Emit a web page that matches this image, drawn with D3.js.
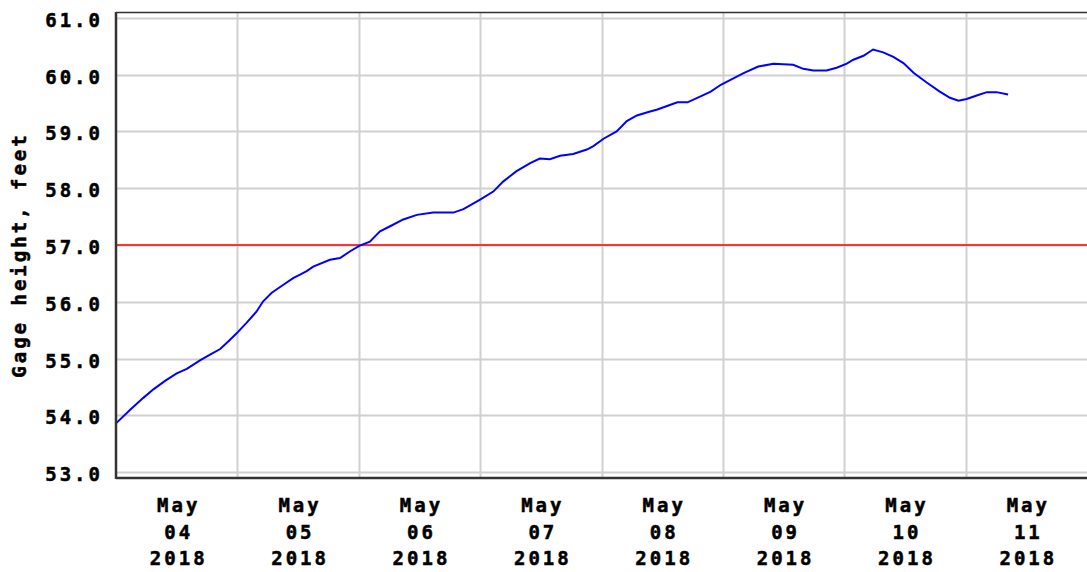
<!DOCTYPE html>
<html>
<head>
<meta charset="utf-8">
<script src="https://cdn.jsdelivr.net/npm/d3@7"></script>
<style>
  html, body { margin: 0; padding: 0; background: #fff; }
  svg { display: block; }
  text { font-family: "DejaVu Sans Mono", "Liberation Mono", monospace; font-weight: bold; font-size: 19px; fill: #000; stroke: #000; stroke-width: 0.5px; }
</style>
</head>
<body>
<svg id="chart" width="1087" height="572"></svg>
<script>
// ---- data (hours after 2018-05-04 00:00, gage height in feet) ----
const startTime = "2018-05-04T00:00:00";
const hours = [0.1, 2.8, 5.4, 7.4, 9.7, 12.0, 14.0, 16.6, 18.6, 20.6, 22.5, 23.9, 25.8, 27.8, 29.1, 30.8, 33.1, 35.1, 36.4, 37.7,
  39.0, 42.3, 44.3, 46.3, 48.2, 50.2, 52.2, 54.2, 56.8, 59.5, 62.7, 66.7, 68.7, 72.0, 74.6, 76.6, 79.2, 81.9, 83.8, 85.8,
  87.8, 90.4, 93.1, 94.4, 96.4, 99.0, 101.0, 103.0, 105.6, 106.9, 109.1, 111.0, 113.0, 115.7, 117.6, 119.6, 121.6, 124.2, 127.0, 130.0,
  133.9, 135.9, 137.9, 140.5, 142.5, 144.5, 145.8, 147.8, 149.7, 151.7, 153.7, 155.7, 157.7, 160.3, 162.9, 164.9, 166.6, 168.2, 170.2, 172.2,
  174.1, 176.4];
const gage = [53.87, 54.10, 54.31, 54.46, 54.61, 54.74, 54.82, 54.97, 55.07, 55.17, 55.33, 55.45, 55.63, 55.83, 56.01, 56.16, 56.30, 56.42, 56.48, 56.54,
  56.62, 56.74, 56.77, 56.89, 56.99, 57.06, 57.24, 57.33, 57.45, 57.53, 57.57, 57.57, 57.63, 57.80, 57.94, 58.12, 58.30, 58.44, 58.52, 58.51,
  58.57, 58.60, 58.68, 58.74, 58.87, 59.00, 59.18, 59.28, 59.35, 59.38, 59.45, 59.51, 59.51, 59.62, 59.70, 59.82, 59.91, 60.03, 60.14, 60.19,
  60.17, 60.10, 60.07, 60.07, 60.12, 60.19, 60.26, 60.33, 60.44, 60.39, 60.31, 60.20, 60.03, 59.86, 59.70, 59.59, 59.54, 59.57, 59.63, 59.69,
  59.69, 59.65];
const yTicks = [53, 54, 55, 56, 57, 58, 59, 60, 61];
const dayLabels = ["04", "05", "06", "07", "08", "09", "10", "11"];
const monthLabel = "May";
const yearLabel = "2018";
const referenceLevel = 57.0;
const yTitle = "Gage height, feet";

// ---- layout ----
const W = 1087, H = 572;
const margin = { left: 116, top: 12, right: 0, bottom: 94 };
const svg = d3.select("#chart");

const t0 = new Date(startTime);
const hourMs = 3600 * 1000;
const data = hours.map((h, i) => ({ t: new Date(t0.getTime() + h * hourMs), v: gage[i] }));

const x = d3.scaleTime()
  .domain([t0, new Date(t0.getTime() + 8 * 24 * hourMs)])
  .range([margin.left, W - margin.right]);
const y = d3.scaleLinear()
  .domain([52.9, 61.1])
  .range([H - margin.bottom, margin.top]);

const dayStarts = d3.range(1, 8).map(d => new Date(t0.getTime() + d * 24 * hourMs));
const dayNoons = dayLabels.map((_, i) => new Date(t0.getTime() + (i * 24 + 12) * hourMs));

// gridlines
svg.append("g").selectAll("line.hg").data(yTicks).join("line")
  .attr("x1", margin.left).attr("x2", W - margin.right)
  .attr("y1", d => Math.round(y(d)) + 0.5).attr("y2", d => Math.round(y(d)) + 0.5)
  .attr("stroke", "#d0d0d0").attr("stroke-width", 2);
svg.append("g").selectAll("line.vg").data(dayStarts).join("line")
  .attr("x1", d => Math.round(x(d)) + 0.5).attr("x2", d => Math.round(x(d)) + 0.5)
  .attr("y1", margin.top).attr("y2", H - margin.bottom)
  .attr("stroke", "#d0d0d0").attr("stroke-width", 2);

// reference line
svg.append("line")
  .attr("x1", margin.left).attr("x2", W - margin.right)
  .attr("y1", y(referenceLevel)).attr("y2", y(referenceLevel))
  .attr("stroke", "#ff0000").attr("stroke-width", 1.5);

// data line
svg.append("path").datum(data)
  .attr("fill", "none").attr("stroke", "#0000ff").attr("stroke-width", 2)
  .attr("d", d3.line().x(d => x(d.t)).y(d => y(d.v)));

// frame
svg.append("line").attr("x1", margin.left).attr("x2", W).attr("y1", margin.top + 0.5).attr("y2", margin.top + 0.5)
  .attr("stroke", "#333").attr("stroke-width", 1.5);
svg.append("line").attr("x1", margin.left).attr("x2", margin.left).attr("y1", margin.top).attr("y2", H - margin.bottom + 1)
  .attr("stroke", "#333").attr("stroke-width", 2.5);
svg.append("line").attr("x1", margin.left).attr("x2", W).attr("y1", H - margin.bottom).attr("y2", H - margin.bottom)
  .attr("stroke", "#333").attr("stroke-width", 2.5);

// y axis labels
const yAxis = d3.axisLeft(y).tickValues(yTicks).tickSize(0).tickPadding(0).tickFormat(d3.format(".1f"));
const gy = svg.append("g").attr("transform", `translate(${margin.left - 13},0)`).call(yAxis);
gy.select(".domain").remove();
gy.selectAll("text")
  .attr("dy", null).attr("y", 8.5)
  .attr("font-family", null).attr("font-size", null).attr("fill", null)
  .style("letter-spacing", "3px");

// x axis labels
const xAxis = d3.axisBottom(x).tickValues(dayNoons).tickSize(0).tickFormat(() => "");
const gx = svg.append("g").attr("transform", `translate(0,${H - margin.bottom})`).call(xAxis);
gx.select(".domain").remove();
gx.selectAll(".tick text").each(function (d, i) {
  const t = d3.select(this).attr("dy", null).attr("y", 0).attr("font-family", null).attr("font-size", null).attr("fill", null)
    .style("letter-spacing", "3px");
  [monthLabel, dayLabels[i], yearLabel].forEach((s, k) => {
    t.append("tspan").attr("x", 1.5).attr("y", 34 + k * 26.5).text(s);
  });
});

// y title
svg.append("text")
  .attr("transform", `translate(26,255) rotate(-90)`)
  .attr("text-anchor", "middle")
  .style("letter-spacing", "3px")
  .text(yTitle);
</script>
</body>
</html>
